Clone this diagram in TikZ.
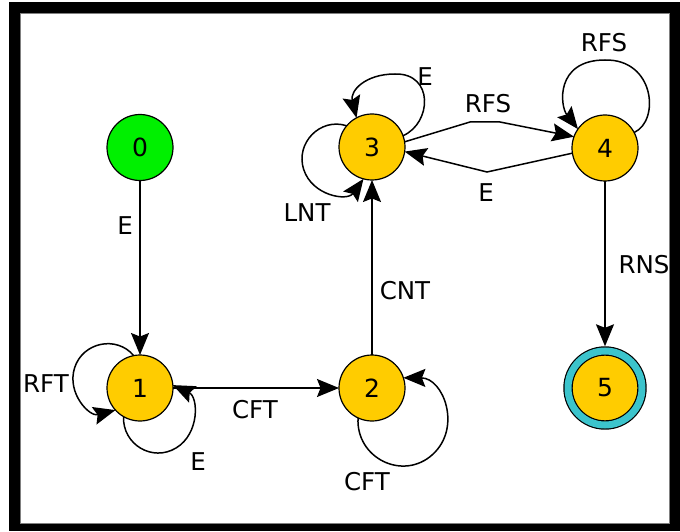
\documentclass[tikz,border=0pt]{standalone}
\usepackage{fontspec}
\setmainfont{DejaVu Sans}
\usetikzlibrary{arrows.meta}
\definecolor{stateyellow}{RGB}{255,204,0}
\definecolor{startgreen}{RGB}{0,240,0}
\definecolor{finalcyan}{RGB}{60,196,204}
\begin{document}
\begin{tikzpicture}[x=1pt,y=1pt,
  state/.style={circle, draw, line width=1.2pt, minimum size=66pt, inner sep=0pt, outer sep=0pt, fill=stateyellow, font=\fontsize{25}{27}\selectfont},
  edge/.style={draw, line width=1.5pt, -{Stealth[length=22pt,width=18pt,inset=3.5pt]}},
  lbl/.style={font=\fontsize{24.5}{27}\selectfont, inner sep=0pt}]
\useasboundingbox (0,0) rectangle (680,531);
\fill[black] (9,0) rectangle (680,529);
\fill[white] (20,8) rectangle (669,518);
\draw[gray, line width=0.8pt] (20,8) rectangle (669,518);

\node[state, fill=startgreen] (n0) at (140,383.5) {0};
\node[state] (n1) at (140,143) {1};
\node[state] (n2) at (372,143) {2};
\node[state] (n3) at (372,384) {3};
\node[state] (n4) at (605,383) {4};
\node[state, minimum size=74pt, double=finalcyan, double distance=7pt, outer sep=4.7pt] (n5) at (605,143) {5};

\draw[edge] (n0) -- (n1);
\draw[edge] (n1) -- (n2);
\draw[edge] (n2) -- (n3);
\draw[edge] (n4) -- (n5);

\coordinate (k1) at (470,409);
\coordinate (k2) at (500,409);
\coordinate (k3) at (487,359);
\draw[edge] (n3.9) -- (k1) -- (k2) -- (n4.160);
\draw[edge] (n4.189) -- (k3) -- (n3.352);

\draw[edge] (n1.101) .. controls (116.5,195.9) and (82.7,188.8) .. (74.6,163.2) .. controls (66.5,137.6) and (89.6,114) .. (n1.222);
\draw[edge] (n1.240) .. controls (122.5,86.5) and (152.4,68.6) .. (176.2,83.1) .. controls (200.0,97.6) and (198.2,134.1) .. (n1.5);
\draw[edge] (n2.245) .. controls (355.7,72.9) and (403.1,49.5) .. (432.7,76.6) .. controls (462.3,103.7) and (443.1,153) .. (n2.18);
\draw[edge] (n3.20) .. controls (432,408) and (434,458) .. (395,457) .. controls (365,457) and (350,440) .. (n3.118);
\draw[edge] (n3.140) .. controls (320.3,413.8) and (295.1,387.9) .. (303.7,361.5) .. controls (312.3,335.1) and (347.2,329.6) .. (n3.255);
\draw[edge] (n4.28) .. controls (660,410) and (655,472) .. (605,471) .. controls (555,471) and (560,425) .. (n4.145);

\node[lbl] (l01) at (125,305) {E};
\node[lbl] (l12) at (255,121) {CFT};
\node[lbl] (l23) at (405,240) {CNT};
\node[lbl] (l34) at (488,427) {RFS};
\node[lbl] (l43) at (486,338) {E};
\node[lbl] (l44) at (604,488) {RFS};
\node[lbl] (l33e) at (425,454) {E};
\node[lbl] (l33l) at (307,318) {LNT};
\node[lbl] (l11r) at (46,147) {RFT};
\node[lbl] (l11e) at (198,69) {E};
\node[lbl] (l22) at (367,49) {CFT};
\node[lbl] (l45) at (644,266) {RNS};
\end{tikzpicture}
\end{document}
